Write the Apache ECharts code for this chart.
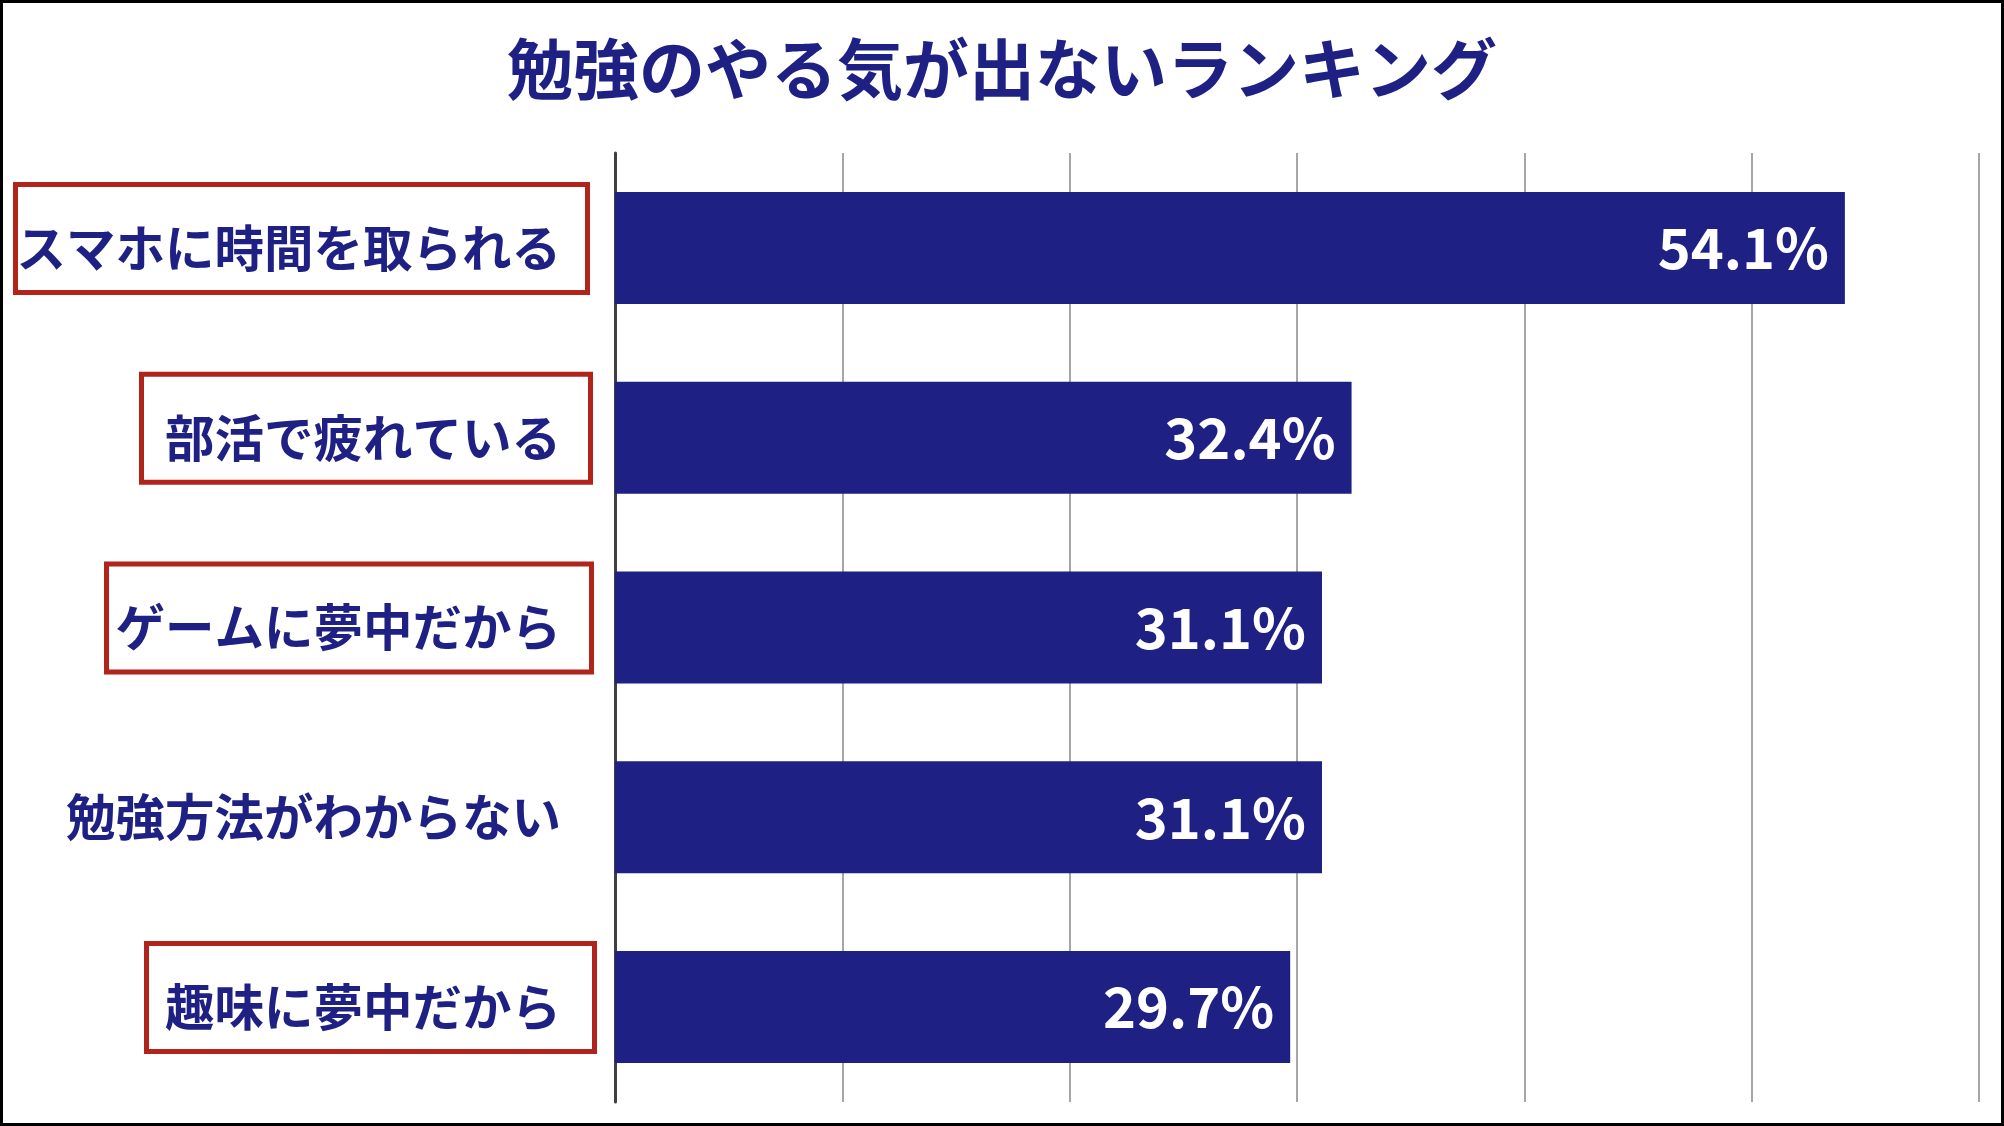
<!DOCTYPE html>
<html>
<head>
<meta charset="utf-8">
<script src="https://cdn.jsdelivr.net/npm/echarts@6/dist/echarts.min.js"></script>
<style>
html,body{margin:0;padding:0;background:#fff;}
#main{width:2004px;height:1126px;}
</style>
</head>
<body>
<div id="main"></div>
<script>
// データ
var categories = ['スマホに時間を取られる', '部活で疲れている', 'ゲームに夢中だから', '勉強方法がわからない', '趣味に夢中だから'];
var values = [54.1, 32.4, 31.1, 31.1, 29.7];
var xTicks = [0, 10, 20, 30, 40, 50, 60];
// 赤枠を付ける項目
var boxed = ['スマホに時間を取られる', '部活で疲れている', 'ゲームに夢中だから', '趣味に夢中だから'];
var boxLeft = [13, 139, 104, 144];
var boxRight = [590, 593, 594, 597];

var navy = '#1f2083';
var red = '#b0241b';
var font = '"Noto Sans CJK JP", "Noto Sans", sans-serif';

var myChart = echarts.init(document.getElementById('main'));

var option = {
    backgroundColor: '#fff',
    animation: false,
    title: {
        text: '勉強のやる気が出ないランキング',
        left: 'center',
        top: 31,
        textStyle: {
            color: navy,
            fontSize: 66,
            fontWeight: 'bold',
            fontFamily: font
        }
    },
    grid: {
        left: 615,
        right: 25,
        top: 153,
        bottom: 24,
        containLabel: false
    },
    xAxis: {
        type: 'value',
        min: xTicks[0],
        max: xTicks[xTicks.length - 1],
        interval: xTicks[1] - xTicks[0],
        axisLabel: {show: false},
        axisLine: {show: false},
        axisTick: {show: false},
        splitLine: {
            show: true,
            lineStyle: {color: '#a6a6a6', width: 2}
        }
    },
    yAxis: {
        type: 'category',
        inverse: true,
        data: categories,
        axisLine: {
            show: true,
            lineStyle: {color: '#404040', width: 3}
        },
        axisTick: {show: false},
        axisLabel: {
            margin: 54,
            color: navy,
            fontSize: 49.5,
            fontWeight: 'bold',
            fontFamily: font
        }
    },
    series: [
        {
            type: 'bar',
            data: values,
            barCategoryGap: '41%',
            itemStyle: {color: navy},
            label: {
                show: true,
                position: 'insideRight',
                distance: 16,
                color: '#fff',
                fontSize: 56,
                fontWeight: 'bold',
                fontFamily: font,
                formatter: function (p) {
                    return p.value.toFixed(1) + '%';
                }
            }
        }
    ]
};

myChart.setOption(option);

// 赤枠と外枠
var graphics = [{
    type: 'rect',
    shape: {x: 1.5, y: 1.5, width: 2001, height: 1123},
    style: {fill: 'none', stroke: '#000', lineWidth: 3},
    silent: true
}];
boxed.forEach(function (name, i) {
    var cy = myChart.convertToPixel({yAxisIndex: 0}, name);
    graphics.push({
        type: 'rect',
        shape: {
            x: boxLeft[i] + 2.5,
            y: cy - 66 + 2.5,
            width: boxRight[i] - boxLeft[i] - 5,
            height: 113 - 5
        },
        style: {fill: 'none', stroke: red, lineWidth: 5},
        silent: true
    });
});
myChart.setOption({graphic: graphics});
</script>
</body>
</html>
